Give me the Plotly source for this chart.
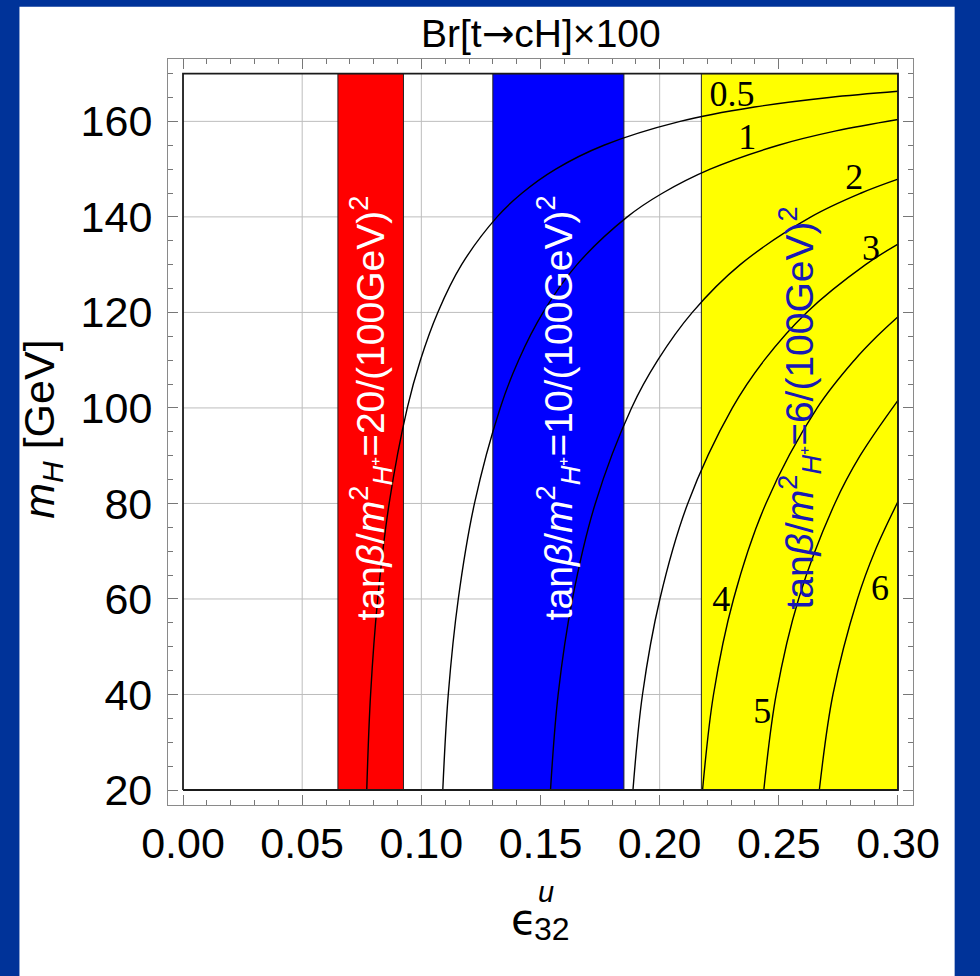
import plotly.graph_objects as go

# ---------------- data ----------------
# x: epsilon^u_32, y: m_H [GeV]
x_lim = [0.0, 0.30]
y_lim = [20, 170]
x_ticks = [0.00, 0.05, 0.10, 0.15, 0.20, 0.25, 0.30]
y_ticks = [20, 40, 60, 80, 100, 120, 140, 160]

# coloured bands (epsilon ranges) and their labels
band_lo = [0.065, 0.130, 0.2175]
band_hi = [0.0925, 0.185, 0.300]
band_value = ["20", "10", "6"]
band_fill = ["#ff0000", "#0000ff", "#ffff00"]
band_text_color = ["white", "white", "#1818b4"]

# contour lines Br[t->cH] x 100
levels = ["0.5", "1", "2", "3", "4", "5", "6"]
mh_05 = [20, 40, 60, 80, 100, 110, 120, 130, 140, 145, 150, 155, 160, 163, 165, 166.3]
ep_05 = [0.0771, 0.0787, 0.0817, 0.0865, 0.0941, 0.0996, 0.1069, 0.1169, 0.1318, 0.1423,
         0.1564, 0.1766, 0.2086, 0.2398, 0.2711, 0.3000]
mh_1 = [20, 40, 60, 80, 100, 110, 120, 130, 140, 145, 150, 155, 158, 160.4]
ep_1 = [0.1090, 0.1113, 0.1155, 0.1223, 0.1331, 0.1408, 0.1511, 0.1653, 0.1864, 0.2013,
        0.2212, 0.2498, 0.2740, 0.3000]
mh_2 = [20, 40, 60, 80, 100, 110, 120, 130, 140, 145, 147.9]
ep_2 = [0.1542, 0.1574, 0.1634, 0.1730, 0.1882, 0.1992, 0.2137, 0.2338, 0.2635, 0.2846, 0.3000]
mh_3 = [20, 40, 60, 80, 100, 110, 120, 130, 134.3]
ep_3 = [0.1888, 0.1928, 0.2001, 0.2118, 0.2305, 0.2439, 0.2617, 0.2864, 0.3000]
mh_4 = [20, 40, 60, 80, 100, 110, 115, 119.1]
ep_4 = [0.2180, 0.2226, 0.2310, 0.2446, 0.2661, 0.2817, 0.2912, 0.3000]
mh_5 = [20, 40, 60, 80, 90, 101.6]
ep_5 = [0.2437, 0.2489, 0.2583, 0.2735, 0.2841, 0.3000]
mh_6 = [20, 40, 60, 70, 80.4]
ep_6 = [0.2670, 0.2727, 0.2830, 0.2903, 0.3000]
curves_mh = [mh_05, mh_1, mh_2, mh_3, mh_4, mh_5, mh_6]
curves_ep = [ep_05, ep_1, ep_2, ep_3, ep_4, ep_5, ep_6]

# contour label positions (epsilon, m_H)
label_ep = [0.2304, 0.2367, 0.2816, 0.2887, 0.2258, 0.2430, 0.2925]
label_mh = [165.2, 156.2, 147.8, 132.9, 59.4, 35.9, 61.7]

# ---------------- figure ----------------
fig = go.Figure()

# grid lines inside the data frame
gx, gy = [], []
for xv in x_ticks[1:-1]:
    gx += [xv, xv, None]
    gy += [y_lim[0], y_lim[1], None]
for yv in y_ticks[1:]:
    gx += [x_lim[0], x_lim[1], None]
    gy += [yv, yv, None]
fig.add_trace(go.Scatter(x=gx, y=gy, mode="lines",
                         line=dict(color="#bdbdbd", width=1),
                         hoverinfo="skip", showlegend=False))

# bands
for lo, hi, col in zip(band_lo, band_hi, band_fill):
    fig.add_trace(go.Scatter(
        x=[lo, hi, hi, lo, lo], y=[y_lim[0], y_lim[0], y_lim[1], y_lim[1], y_lim[0]],
        mode="lines", fill="toself", fillcolor=col,
        line=dict(color="#222222", width=1),
        hoverinfo="skip", showlegend=False))

# contour curves
for mh, ep in zip(curves_mh, curves_ep):
    fig.add_trace(go.Scatter(x=ep, y=mh, mode="lines",
                             line=dict(color="black", width=1.4, shape="spline"),
                             hoverinfo="skip", showlegend=False))

# data frame border
fig.add_trace(go.Scatter(
    x=[x_lim[0], x_lim[1], x_lim[1], x_lim[0], x_lim[0]],
    y=[y_lim[0], y_lim[0], y_lim[1], y_lim[1], y_lim[0]],
    mode="lines", line=dict(color="#1a1a1a", width=1.8),
    hoverinfo="skip", showlegend=False))

# contour labels
fig.add_trace(go.Scatter(x=label_ep, y=label_mh, mode="text", text=levels,
                         textfont=dict(family="Liberation Serif", size=36, color="black"),
                         hoverinfo="skip", showlegend=False))

# band labels (rotated)
for lo, hi, val, tc in zip(band_lo, band_hi, band_value, band_text_color):
    fig.add_annotation(
        x=(lo + hi) / 2, y=100, xref="x", yref="y",
        text="tan<i>β</i>/<i>m</i><sup>2</sup><sub><i>H</i>⁺</sub>=" + val + "/(100GeV)<sup>2</sup>",
        textangle=-90, showarrow=False,
        font=dict(family="Liberation Sans", size=39, color=tc),
        xanchor="center", yanchor="middle")

# title
fig.add_annotation(x=0.5, y=1.034, xref="paper", yref="paper",
                   text="Br[t<span style='font-family:DejaVu Sans'>→</span>cH]×100",
                   showarrow=False,
                   font=dict(family="Liberation Sans", size=39, color="black"),
                   xanchor="center", yanchor="middle")

# y axis title
fig.add_annotation(x=-0.169, y=0.503, xref="paper", yref="paper",
                   text="<i>m</i><sub><i>H</i></sub> [GeV]", textangle=-90,
                   showarrow=False,
                   font=dict(family="Liberation Sans", size=43, color="black"),
                   xanchor="center", yanchor="middle")

# x axis title: epsilon with stacked super/subscript
fig.add_annotation(x=0.478, y=-0.154, xref="paper", yref="paper", text="ϵ",
                   showarrow=False, font=dict(family="DejaVu Sans", size=42, color="black"),
                   xanchor="center", yanchor="middle")
fig.add_annotation(x=0.507, y=-0.117, xref="paper", yref="paper", text="<i>u</i>",
                   showarrow=False, font=dict(family="Liberation Sans", size=29, color="black"),
                   xanchor="center", yanchor="middle")
fig.add_annotation(x=0.515, y=-0.166, xref="paper", yref="paper", text="32",
                   showarrow=False, font=dict(family="Liberation Sans", size=32, color="black"),
                   xanchor="center", yanchor="middle")

# white panel over blue page
fig.add_shape(type="rect", xref="paper", yref="paper",
              x0=-0.1994, x1=1.0559, y0=-0.25, y1=1.0701,
              fillcolor="white", line=dict(width=0), layer="below")

pad_x = 0.0063
pad_y_lo = 3.14
pad_y_hi = 3.06
axis_common = dict(showgrid=False, zeroline=False, showline=True, linecolor="#8a8a8a",
                   linewidth=1.2, mirror="ticks", ticks="inside", tickcolor="#777777",
                   tickwidth=1, ticklen=10,
                   tickfont=dict(family="Liberation Sans", size=43, color="black"))
fig.update_xaxes(range=[x_lim[0] - pad_x, x_lim[1] + pad_x], tickvals=x_ticks,
                 ticktext=["%.2f" % v for v in x_ticks], ticklabelstandoff=0,
                 minor=dict(dtick=0.01, tick0=0, ticks="inside", ticklen=5, tickcolor="#777777"),
                 **axis_common)
fig.update_yaxes(range=[y_lim[0] - pad_y_lo, y_lim[1] + pad_y_hi], tickvals=y_ticks,
                 ticklabelstandoff=6,
                 minor=dict(dtick=5, tick0=0, ticks="inside", ticklen=5, tickcolor="#777777"),
                 **axis_common)

fig.update_layout(width=980, height=976,
                  margin=dict(l=168, r=67, t=59, b=171),
                  paper_bgcolor="#003399", plot_bgcolor="white",
                  showlegend=False)

fig.write_html("out.html")
